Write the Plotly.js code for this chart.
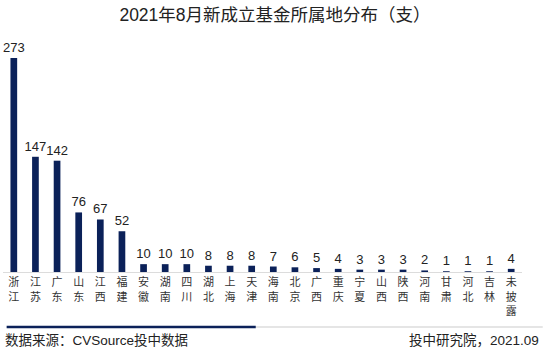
<!DOCTYPE html>
<html><head><meta charset="utf-8">
<script src="https://cdn.plot.ly/plotly-3.0.1.min.js"></script>
<style>html,body{margin:0;padding:0;background:#fff}#c{width:550px;height:353px}</style>
</head><body><div id="c"></div>
<script>
const categories = ["浙江","江苏","广东","山东","江西","福建","安徽","湖南","四川","湖北","上海","天津","海南","北京","广西","重庆","宁夏","山西","陕西","河南","甘肃","河北","吉林","未披露"];
const values = [273,147,142,76,67,52,10,10,10,8,8,8,7,6,5,4,3,3,3,2,1,1,1,4];
const tickLabels = categories.map(c => c.split("").join("<br>"));
const F = "Liberation Sans, Arial, Noto Sans CJK SC, sans-serif";
const trace = {
  type: "bar", x: categories, y: values, marker: {color: "#0b2159"},
  text: values.map(String), textposition: "outside", cliponaxis: false,
  constraintext: "none", textfont: {family: F, size: 13, color: "#222"},
  hoverinfo: "none"
};
const layout = {
  width: 550, height: 353, margin: {l: 3, r: 28, t: 40, b: 81},
  paper_bgcolor: "#fff", plot_bgcolor: "#fff", bargap: 0.69, showlegend: false,
  title: {text: "2021年8月新成立基金所属地分布（支）", x: 0.5, xanchor: "center", y: 0.975, yanchor: "top",
          font: {family: F, size: 17.5, color: "#222"}},
  xaxis: {type: "category", tickvals: categories, ticktext: tickLabels, showline: true, linecolor: "#dcdcdc", linewidth: 1,
          ticks: "", tickfont: {family: F, size: 11, color: "#333"}, fixedrange: true},
  yaxis: {range: [0, 296], visible: false, fixedrange: true},
  shapes: [
    {type: "line", xref: "paper", yref: "paper", x0: 0.487, x1: 1.04, y0: -0.237, y1: -0.237, line: {color: "#dddddd", width: 1.5}},
    {type: "line", xref: "paper", yref: "paper", x0: 0.007, x1: 0.487, y0: -0.237, y1: -0.237, line: {color: "#0b2159", width: 2.5}}
  ],
  annotations: [
    {text: "数据来源：CVSource投中数据", xref: "paper", yref: "paper", x: 0.0, y: -0.255, xanchor: "left", yanchor: "top",
     showarrow: false, font: {family: F, size: 13.5, color: "#222"}},
    {text: "投中研究院，2021.09", xref: "paper", yref: "paper", x: 1.037, y: -0.255, xanchor: "right", yanchor: "top",
     showarrow: false, font: {family: F, size: 13.5, color: "#222"}}
  ]
};
Plotly.newPlot("c", [trace], layout, {staticPlot: true, displayModeBar: false});
</script></body></html>
